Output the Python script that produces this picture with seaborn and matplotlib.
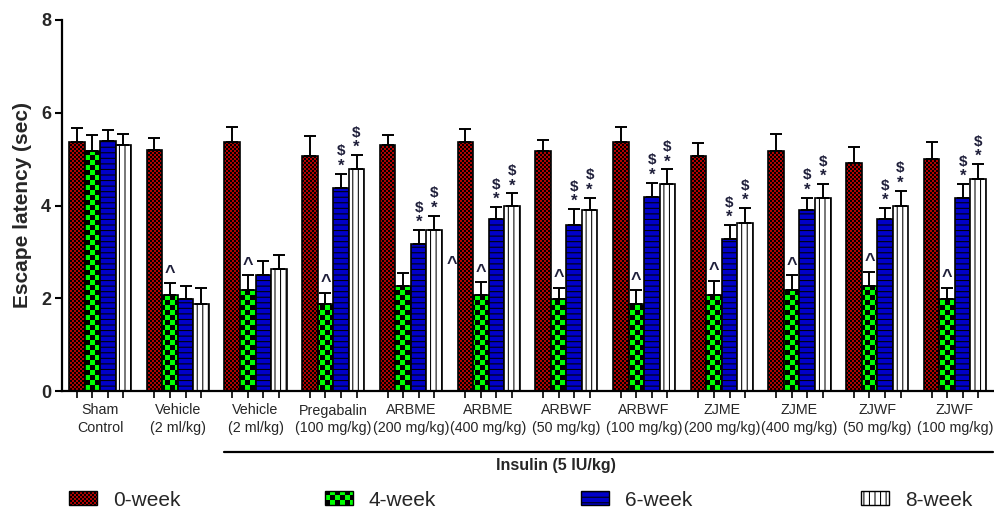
import warnings
warnings.filterwarnings("ignore")
import numpy as np
import pandas as pd
import matplotlib
matplotlib.use("Agg")
import matplotlib.pyplot as plt
import matplotlib.hatch as mhatch
from matplotlib.path import Path
from matplotlib.patches import Patch
from matplotlib.lines import Line2D
import seaborn as sns

# ---------------- data ----------------
group_labels = ["Sham\nControl", "Vehicle\n(2 ml/kg)", "Vehicle\n(2 ml/kg)",
                "Pregabalin\n(100 mg/kg)", "ARBME\n(200 mg/kg)", "ARBME\n(400 mg/kg)",
                "ARBWF\n(50 mg/kg)", "ARBWF\n(100 mg/kg)", "ZJME\n(200 mg/kg)",
                "ZJME\n(400 mg/kg)", "ZJWF\n(50 mg/kg)", "ZJWF\n(100 mg/kg)"]
weeks = ["0-week", "4-week", "6-week", "8-week"]

week0 = [5.37, 5.20, 5.37, 5.06, 5.30, 5.37, 5.18, 5.37, 5.06, 5.18, 4.92, 5.00]
week4 = [5.17, 2.07, 2.18, 1.87, 2.26, 2.07, 1.98, 1.87, 2.07, 2.18, 2.26, 1.98]
week6 = [5.40, 1.98, 2.50, 4.38, 3.18, 3.70, 3.58, 4.19, 3.28, 3.90, 3.70, 4.17]
week8 = [5.30, 1.87, 2.63, 4.78, 3.47, 3.99, 3.90, 4.46, 3.63, 4.17, 3.99, 4.58]

err0 = [0.31, 0.25, 0.32, 0.44, 0.23, 0.29, 0.23, 0.33, 0.29, 0.37, 0.35, 0.37]
err4 = [0.35, 0.26, 0.32, 0.25, 0.29, 0.27, 0.25, 0.31, 0.31, 0.32, 0.31, 0.25]
err6 = [0.23, 0.29, 0.31, 0.31, 0.29, 0.27, 0.34, 0.30, 0.30, 0.27, 0.25, 0.29]
err8 = [0.25, 0.35, 0.30, 0.31, 0.31, 0.27, 0.27, 0.32, 0.32, 0.29, 0.33, 0.31]

caret_groups = [1, 2, 3, 5, 6, 7, 8, 9, 10, 11]      # "^" above 4-week bar
sig_groups = [3, 4, 5, 6, 7, 8, 9, 10, 11]           # "$" and "*" above 6- and 8-week bars
stray_caret = (5, 2.72)                               # lone "^" left of ARBME 400 group
insulin_label = "Insulin (5 IU/kg)"

# ---------------- custom checkerboard hatch ----------------
HATCH_LW_PT = 0.75
STROKE_UNITS = HATCH_LW_PT / 72.0


class CheckerHatch(mhatch.HatchPatternBase):
    def __init__(self, hatch, density):
        k = hatch.count("c")
        self.n = 10 * k
        self.num_vertices = (self.n * self.n // 2) * 5 if self.n else 0

    def set_vertices_and_codes(self, vertices, codes):
        n = self.n
        s = 1.0 / n
        m = min(STROKE_UNITS / 2.0, s * 0.3)
        sq = np.array([[m, m], [s - m, m], [s - m, s - m], [m, s - m], [m, m]])
        cd = np.array([Path.MOVETO, Path.LINETO, Path.LINETO, Path.LINETO,
                       Path.CLOSEPOLY], dtype=Path.code_type)
        parts = []
        for i in range(n):
            for j in range(n):
                if (i + j) % 2 == 0:
                    parts.append(sq + [i * s, j * s])
        vertices[:] = np.concatenate(parts)
        codes[:] = np.tile(cd, len(parts))


mhatch._hatch_types.append(CheckerHatch)

# ---------------- style ----------------
sns.set_theme(style="ticks")
plt.rcParams["font.family"] = ["Liberation Sans", "DejaVu Sans"]
plt.rcParams["hatch.linewidth"] = HATCH_LW_PT
plt.rcParams["hatch.color"] = "black"

face_colors = {"0-week": "#b30000", "4-week": "#00ff00",
               "6-week": "#0000c8", "8-week": "#ffffff"}
hatches = {"0-week": "ccccc", "4-week": "cc", "6-week": "---", "8-week": "|||"}

keys = [f"g{i}" for i in range(len(group_labels))]
values = {"0-week": week0, "4-week": week4, "6-week": week6, "8-week": week8}
errors = {"0-week": err0, "4-week": err4, "6-week": err6, "8-week": err8}

df = pd.DataFrame([
    {"group": keys[i], "week": w, "value": values[w][i]}
    for w in weeks for i in range(len(keys))
])

fig = plt.figure(figsize=(9.95, 5.13), dpi=100)
ax = fig.add_axes([62 / 995, 122 / 513, 931 / 995, 371 / 513])

sns.barplot(data=df, x="group", y="value", hue="week", order=keys,
            hue_order=weeks, palette=face_colors, errorbar=None, width=0.8,
            saturation=1, edgecolor="black", linewidth=1.2, legend=False, ax=ax)

bar_centers = []
for h, w in enumerate(weeks):
    cont = ax.containers[h]
    xs = []
    tops = []
    for bar in cont.patches:
        bar.set_hatch(hatches[w])
        bar.set_edgecolor("black")
        xs.append(bar.get_x() + bar.get_width() / 2)
        tops.append(bar.get_height())
    bar_centers.extend(xs)
    ax.errorbar(xs, tops, yerr=[np.zeros(len(xs)), errors[w]], fmt="none",
                ecolor="black", elinewidth=1.4, capsize=4, capthick=1.4, zorder=1)

ann_color = "#1f1f3a"
c4 = ax.containers[1].patches
for g in caret_groups:
    b = c4[g]
    x = b.get_x() + b.get_width() / 2
    y = week4[g] + err4[g]
    ax.annotate("^", (x, y), xytext=(0, 1), textcoords="offset points",
                ha="center", va="bottom", fontsize=13, color=ann_color, fontweight="bold")

for h, w in [(2, "6-week"), (3, "8-week")]:
    ps = ax.containers[h].patches
    for g in sig_groups:
        b = ps[g]
        x = b.get_x() + b.get_width() / 2
        y = values[w][g] + errors[w][g]
        ax.annotate("*", (x, y), xytext=(0, 0), textcoords="offset points",
                    ha="center", va="bottom", fontsize=12, color=ann_color, fontweight="bold")
        t = ax.annotate("$", (x, y), xytext=(0, 11), textcoords="offset points",
                        ha="center", va="bottom", fontsize=11, color=ann_color,
                        fontweight="bold")
        t.set_parse_math(False)

sg, sy = stray_caret
b0 = ax.containers[0].patches[sg]
ax.text(b0.get_x() - 0.07, sy, "^", ha="center", va="center", fontsize=13,
        color=ann_color, fontweight="bold")

# ---------------- axes ----------------
ax.set_ylim(0, 8)
ax.set_xlim(-0.49, len(keys) - 0.51)
ax.set_yticks([0, 2, 4, 6, 8])
ax.set_yticklabels(["0", "2", "4", "6", "8"], fontsize=13, fontweight="bold")
ax.set_xticks(range(len(keys)))
ax.set_xticklabels(group_labels, fontsize=10.3, linespacing=1.35)
ax.set_xticks(sorted(bar_centers), minor=True)
ax.tick_params(axis="x", which="major", length=0, pad=9)
ax.tick_params(axis="x", which="minor", length=5, width=1.2, direction="out", color="black")
ax.tick_params(axis="y", which="major", length=5, width=1.5, direction="out", color="black", pad=3)
ax.set_xlabel("")
ax.set_ylabel("Escape latency (sec)", fontsize=15, fontweight="bold", labelpad=6)
for side in ["top", "right"]:
    ax.spines[side].set_visible(False)
for side in ["left", "bottom"]:
    ax.spines[side].set_linewidth(1.6)
    ax.spines[side].set_color("black")

# Insulin bracket
first_ins = ax.containers[0].patches[2]
line_start = first_ins.get_x()
trans = ax.get_xaxis_transform()
ax.add_line(Line2D([line_start, len(keys) - 0.51], [-0.164, -0.164], transform=trans,
                   color="black", linewidth=1.6, clip_on=False))
ax.text(5.86, -0.2, insulin_label, transform=trans, ha="center", va="center",
        fontsize=11.5, fontweight="bold")

# ---------------- legend ----------------
legend_x = [69 / 995, 325 / 995, 581 / 995, 861 / 995]
for w, lx in zip(weeks, legend_x):
    handle = Patch(facecolor=face_colors[w], edgecolor="black", hatch=hatches[w], linewidth=1.0)
    fig.legend([handle], [w], loc="center left", bbox_to_anchor=(lx, 1 - 500 / 513),
               frameon=False, fontsize=15, handlelength=1.35, handleheight=0.67,
               handletextpad=0.75, borderpad=0, borderaxespad=0)

fig.savefig("out.png", dpi=100)
